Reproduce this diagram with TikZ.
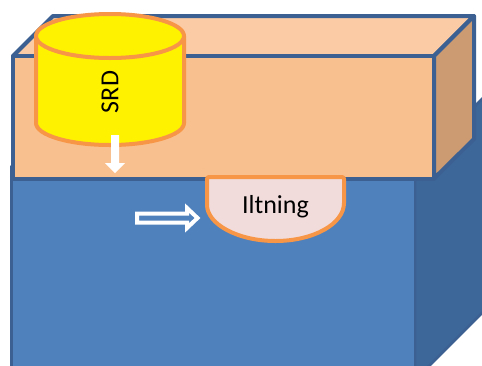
\documentclass[tikz,border=0pt]{standalone}
\usepackage{fontspec}
\setmainfont{Carlito}
\definecolor{peachtop}{HTML}{FBCBA5}
\definecolor{peachfront}{HTML}{F9C08F}
\definecolor{peachside}{HTML}{CC9B72}
\definecolor{edgeblue}{HTML}{3B6091}
\definecolor{bluefront}{HTML}{4F81BD}
\definecolor{blueside}{HTML}{3E6799}
\definecolor{accentorange}{HTML}{F79646}
\definecolor{pinkfill}{HTML}{F2DCDB}
\tikzset{
  boxface/.style={draw=edgeblue, line width=4pt, line join=round},
  blueface/.style={draw=edgeblue, line width=2.5pt, line join=round},
  orangeshape/.style={draw=accentorange, line width=4pt, line join=round},
  label/.style={font=\fontsize{26}{30}\selectfont, text=black, inner sep=0pt},
  whitearrow/.style={fill=white, draw=none},
  hollowarrow/.style={fill=bluefront, draw=white, line width=4pt, line join=miter},
}
\begin{document}
\begin{tikzpicture}[x=1pt, y=-1pt]
  \useasboundingbox (0,0) rectangle (482,365);
  \fill[white] (0,0) rectangle (482,365);
  \begin{scope}
    \clip (0,0) rectangle (482,365);
    % lower block: front and right faces
    \filldraw[blueface, fill=blueside] (415,166) -- (515,66) -- (515,280) -- (415,380) -- cycle;
    \filldraw[blueface, fill=bluefront] (11.5,166) -- (415,166) -- (415,380) -- (11.5,380) -- cycle;
  \end{scope}
  % upper slab: top, right and front faces
  \filldraw[boxface, fill=peachtop] (13,56) -- (53,16) -- (474,16) -- (434,56) -- cycle;
  \filldraw[boxface, fill=peachside] (434,56) -- (474,16) -- (474,139) -- (434,178.5) -- cycle;
  \filldraw[boxface, fill=peachfront] (13,56) -- (434,56) -- (434,178.5) -- (13,178.5) -- cycle;
  % rounded pocket holding the label
  \filldraw[orangeshape, fill=pinkfill, rounded corners=2pt]
    (207,177) -- (207,203)
    [sharp corners] arc[start angle=180, end angle=0, x radius=68.5, y radius=38]
    [rounded corners=2pt] -- (344,177) -- cycle;
  \node[label] (iltning) at (275.5,207) {Iltning};
  % cylinder
  \filldraw[orangeshape, fill=yellow] (36,36) -- (36,123)
    arc[start angle=180, end angle=0, x radius=74, y radius=22] -- (184,36) -- cycle;
  \filldraw[orangeshape, fill=yellow] (110,36) ellipse [x radius=74, y radius=22];
  \node[label, rotate=90] (srd) at (110,92) {SRD};
  % flow arrows
  \fill[whitearrow] (111,135) -- (119,135) -- (119,163) -- (125,163) -- (115,173)
    -- (105,163) -- (111,163) -- cycle;
  \filldraw[hollowarrow] (137,213.5) -- (187,213.5) -- (187,208) -- (197.5,218)
    -- (187,228) -- (187,222.5) -- (137,222.5) -- cycle;
\end{tikzpicture}
\end{document}
